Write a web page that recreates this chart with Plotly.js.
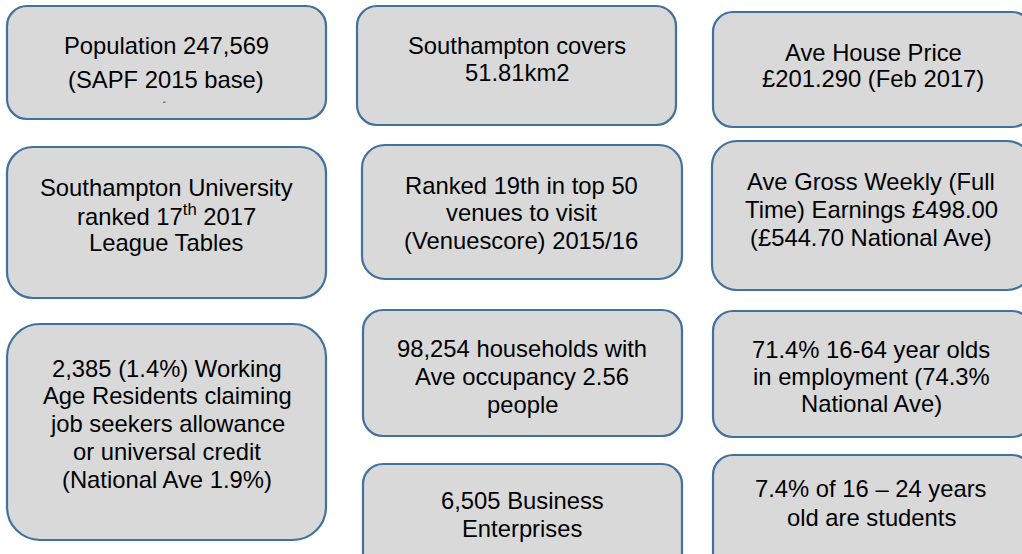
<!DOCTYPE html>
<html><head><meta charset="utf-8">
<script src="https://cdn.plot.ly/plotly-3.0.1.min.js"></script>
<style>html,body{margin:0;padding:0;background:#fff}#chart{width:1022px;height:554px}</style>
</head><body><div id="chart"></div>
<script>
// ---- data: the facts shown in each box (text lines) ----
const factPopulation = ["Population 247,569", "(SAPF 2015 base)"];
const factArea = ["Southampton covers", "51.81km2"];
const factHousePrice = ["Ave House Price", "£201.290 (Feb 2017)"];
const factUniversity = ["Southampton University", "ranked 17<sup>th</sup> 2017", "League Tables"];
const factVenues = ["Ranked 19th in top 50", "venues to visit", "(Venuescore) 2015/16"];
const factEarnings = ["Ave Gross Weekly (Full", "Time) Earnings £498.00", "(£544.70 National Ave)"];
const factClaimants = ["2,385 (1.4%) Working", "Age Residents claiming", "job seekers allowance", "or universal credit", "(National Ave 1.9%)"];
const factHouseholds = ["98,254 households with", "Ave occupancy 2.56", "people"];
const factBusiness = ["6,505 Business", "Enterprises"];
const factEmployment = ["71.4% 16-64 year olds", "in employment (74.3%", "National Ave)"];
const factStudents = ["7.4% of 16 – 24 years", "old are students"];

// ---- layout: box geometry in pixels (x0,y0,x1,y1,radius, text centre x, first line y, line step) ----
const boxes = [
  {lines: factPopulation, x0: 7,   y0: 6,   x1: 326,  y1: 119, r: 20, cx: 166, cy: 45,  dy: 34},
  {lines: factArea,       x0: 357, y0: 6,   x1: 676,  y1: 125, r: 20, cx: 517, cy: 45,  dy: 27},
  {lines: factHousePrice, x0: 713, y0: 12,  x1: 1032, y1: 127, r: 20, cx: 873, cy: 52,  dy: 26},
  {lines: factUniversity, x0: 7,   y0: 147, x1: 326,  y1: 298, r: 26, cx: 166, cy: 187, dy: 27.5},
  {lines: factVenues,     x0: 362, y0: 145, x1: 682,  y1: 279, r: 23, cx: 521, cy: 185, dy: 27.5},
  {lines: factEarnings,   x0: 712, y0: 141, x1: 1032, y1: 290, r: 25, cx: 871, cy: 181, dy: 28},
  {lines: factClaimants,  x0: 7,   y0: 324, x1: 326,  y1: 540, r: 33, cx: 167, cy: 368, dy: 27.8},
  {lines: factHouseholds, x0: 363, y0: 310, x1: 682,  y1: 436, r: 20, cx: 522, cy: 348, dy: 28},
  {lines: factBusiness,   x0: 363, y0: 464, x1: 682,  y1: 575, r: 20, cx: 522, cy: 500, dy: 28},
  {lines: factEmployment, x0: 713, y0: 311, x1: 1032, y1: 437, r: 20, cx: 871, cy: 349, dy: 27},
  {lines: factStudents,   x0: 713, y0: 455, x1: 1032, y1: 575, r: 20, cx: 871, cy: 488, dy: 29}
];

function roundRect(b) {
  const k = 0.5523 * b.r, r = b.r;
  return `M ${b.x0 + r},${b.y0} L ${b.x1 - r},${b.y0} ` +
    `C ${b.x1 - r + k},${b.y0} ${b.x1},${b.y0 + r - k} ${b.x1},${b.y0 + r} ` +
    `L ${b.x1},${b.y1 - r} ` +
    `C ${b.x1},${b.y1 - r + k} ${b.x1 - r + k},${b.y1} ${b.x1 - r},${b.y1} ` +
    `L ${b.x0 + r},${b.y1} ` +
    `C ${b.x0 + r - k},${b.y1} ${b.x0},${b.y1 - r + k} ${b.x0},${b.y1 - r} ` +
    `L ${b.x0},${b.y0 + r} ` +
    `C ${b.x0},${b.y0 + r - k} ${b.x0 + r - k},${b.y0} ${b.x0 + r},${b.y0} Z`;
}

const shapes = boxes.map(b => ({
  type: 'path', xref: 'x', yref: 'y', path: roundRect(b),
  fillcolor: '#D9D9D9', line: {color: '#41719C', width: 2.2}, layer: 'below'
}));
// tiny stray mark in the first box
shapes.push({type: 'rect', xref: 'x', yref: 'y', x0: 163, x1: 165.5, y0: 101.5, y1: 103,
  fillcolor: '#777', line: {width: 0}, layer: 'above'});

const annotations = [];
boxes.forEach(b => {
  b.lines.forEach((t, i) => {
    annotations.push({
      xref: 'x', yref: 'y', x: b.cx, y: b.cy + i * b.dy,
      text: t, showarrow: false, xanchor: 'center', yanchor: 'middle',
      font: {family: 'Liberation Sans, Arial, sans-serif', size: 23.8, color: '#000'}
    });
  });
});

const layout = {
  width: 1022, height: 554,
  margin: {l: 0, r: 0, t: 0, b: 0},
  paper_bgcolor: '#fff', plot_bgcolor: '#fff',
  xaxis: {range: [0, 1022], visible: false, fixedrange: true},
  yaxis: {range: [554, 0], visible: false, fixedrange: true},
  shapes: shapes, annotations: annotations, showlegend: false
};

Plotly.newPlot('chart', [{x: [], y: [], type: 'scatter', hoverinfo: 'skip'}], layout,
  {displayModeBar: false, staticPlot: true});
</script>
</body></html>
